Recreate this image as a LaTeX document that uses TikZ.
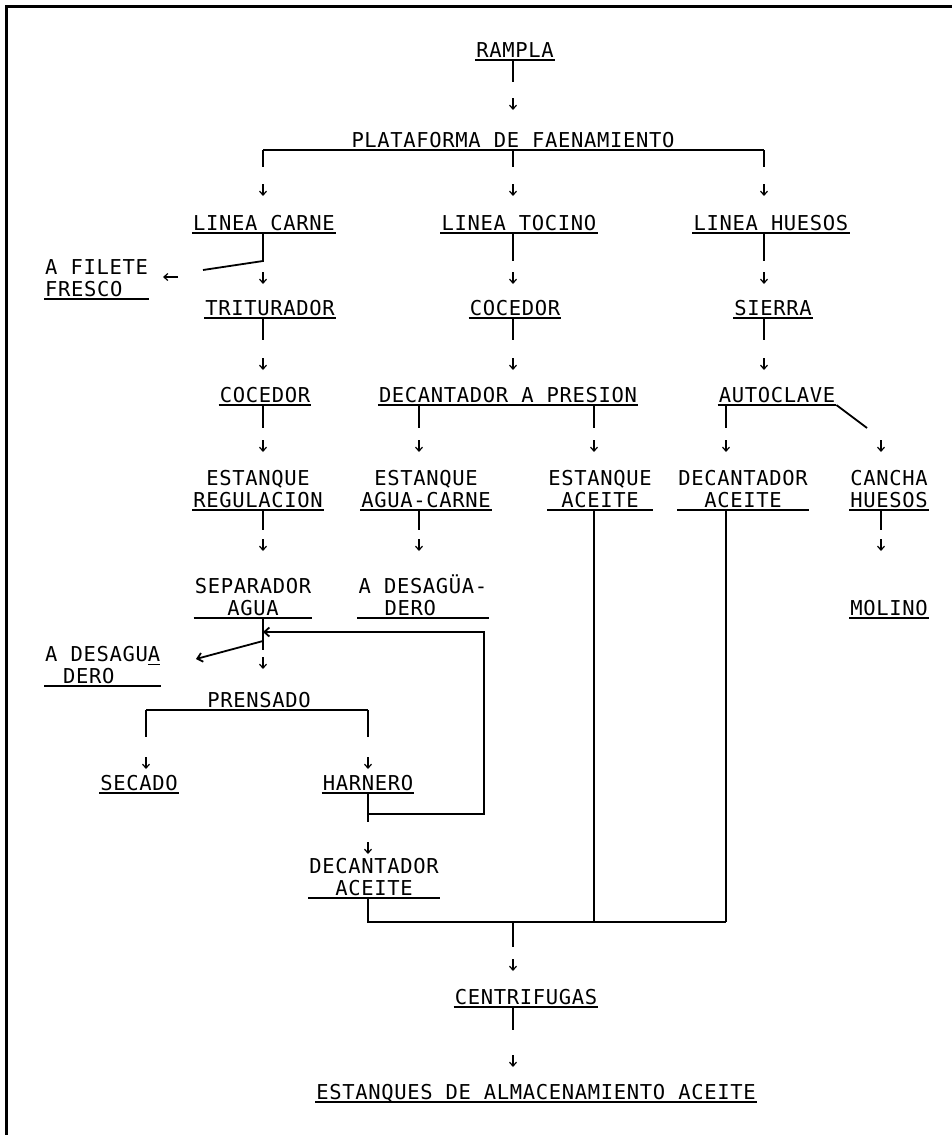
\documentclass[tikz,border=0pt]{standalone}
\usepackage{fontspec}
\newfontfamily\tw{DejaVu Sans Mono}[LetterSpace=3.2]
\usetikzlibrary{arrows.meta,calc}
\tikzset{
  lbl/.style={font=\tw\fontsize{20.5}{22}\selectfont, inner xsep=1pt, inner ysep=2pt, text depth=0pt, anchor=south, align=center},
  uline/.style={line width=1.8pt},
  ul/.style={append after command={(\tikzlastnode.south west) edge[uline] (\tikzlastnode.south east)}},
  conn/.style={line width=1.8pt},
  arr/.style={line width=1.2pt, -{Straight Barb[length=4pt,width=7pt]}},
  bigarr/.style={line width=1.8pt, -{Straight Barb[length=5pt,width=9pt]}},
}
\newcommand\dnarrow[2]{\draw[arr] ($(#1)+(0,#2-6)$) -- ($(#1)+(0,#2+6)$);}
\newcommand\ulchar[1]{\makebox[0pt][l]{\rule[-3.5pt]{12pt}{1.5pt}}#1}
\begin{document}
\begin{tikzpicture}[x=1pt,y=-1pt]
\useasboundingbox (0,0) rectangle (952,1135);
\draw[line width=3pt] (6,1135) -- (6,6) -- (952,6);
% columns
\coordinate (xA) at (263,0);
\coordinate (xB) at (513,0);
\coordinate (xC) at (764,0);
\coordinate (xD) at (419,0);
\coordinate (xE) at (594,0);
\coordinate (xF) at (726,0);
\coordinate (xG) at (881,0);
\coordinate (xH) at (146,0);
\coordinate (xI) at (368,0);
\coordinate (xJ) at (484,0);
\coordinate (coll) at (0,922);
\coordinate (fil) at (203,270);
\coordinate (fila) at (178,277);
\coordinate (filb) at (163,277);
\coordinate (adiag) at (867,428);
\coordinate (d1tip) at (196,659);
% nodes
\node[lbl,ul] (rampla) at (515,60) {RAMPLA};
\node[lbl] (plat) at (513,150) {PLATAFORMA DE FAENAMIENTO};
\node[lbl,ul] (lcar) at (264,233) {LINEA CARNE};
\node[lbl,ul] (ltoc) at (519,233) {LINEA TOCINO};
\node[lbl,ul] (lhue) at (771,233) {LINEA HUESOS};
\node[lbl,ul,anchor=south west,align=left] (filete) at (44,299) {A FILETE\\FRESCO};
\node[lbl,ul] (trit) at (270,318) {TRITURADOR};
\node[lbl,ul] (coc2) at (515,318) {COCEDOR};
\node[lbl,ul] (sierra) at (773,318) {SIERRA};
\node[lbl,ul] (coc1) at (265,405) {COCEDOR};
\node[lbl,ul] (decp) at (508,405) {DECANTADOR A PRESION};
\node[lbl,ul] (auto) at (777,405) {AUTOCLAVE};
\node[lbl,ul] (estreg) at (258,510) {ESTANQUE\\REGULACION};
\node[lbl,ul] (estagua) at (426,510) {ESTANQUE\\AGUA-CARNE};
\node[lbl,ul] (estace) at (600,510) {ESTANQUE\\ACEITE};
\node[lbl,ul] (decace1) at (743,510) {DECANTADOR\\ACEITE};
\node[lbl,ul] (cancha) at (889,510) {CANCHA\\HUESOS};
\node[lbl,ul] (sep) at (253,618) {SEPARADOR\\AGUA};
\node[lbl,ul,align=left] (desag2) at (423,618) {A DESAGÜA-\\\hspace*{26pt}DERO};
\node[lbl,ul] (molino) at (889,618) {MOLINO};
\node[lbl,ul,anchor=south west,align=left] (desag1) at (44,686) {A DESAGU\ulchar{A}\\\hspace*{18pt}DERO};
\node[lbl] (prens) at (259,710) {PRENSADO};
\node[lbl,ul] (secado) at (139,793) {SECADO};
\node[lbl,ul] (harn) at (368,793) {HARNERO};
\node[lbl,ul] (decace2) at (374,898) {DECANTADOR\\ACEITE};
\node[lbl,ul] (centr) at (526,1007) {CENTRIFUGAS};
\node[lbl,ul] (estalm) at (536,1102) {ESTANQUES DE ALMACENAMIENTO ACEITE};
% rampla -> plataforma
\draw[conn] (rampla.south -| xB) -- ++(0,22);
\dnarrow{xB}{104}
% plataforma bracket
\draw[conn] (plat.south -| xA) -- (plat.south -| xC);
\foreach \c in {xA,xB,xC} {\draw[conn] (plat.south -| \c) -- ++(0,17);}
\foreach \c in {xA,xB,xC} {\dnarrow{\c}{190}}
% lineas
\draw[conn] (lcar.south -| xA) -- ++(0,28) -- (fil);
\draw[arr] (fila) -- (filb);
\draw[conn] (ltoc.south -| xB) -- ++(0,28);
\draw[conn] (lhue.south -| xC) -- ++(0,28);
\foreach \c in {xA,xB,xC} {\dnarrow{\c}{278}}
% triturador / cocedor / sierra
\draw[conn] (trit.south -| xA) -- ++(0,22);
\draw[conn] (coc2.south -| xB) -- ++(0,22);
\draw[conn] (sierra.south -| xC) -- ++(0,22);
\foreach \c in {xA,xB,xC} {\dnarrow{\c}{364}}
% cocedor / decantador a presion / autoclave
\draw[conn] (coc1.south -| xA) -- ++(0,23);
\draw[conn] (decp.south -| xD) -- ++(0,23);
\draw[conn] (decp.south -| xE) -- ++(0,23);
\draw[conn] (auto.south -| xF) -- ++(0,23);
\draw[conn] (auto.south east) -- (adiag);
\foreach \c in {xA,xD,xE,xF,xG} {\dnarrow{\c}{446}}
% estanques row
\draw[conn] (estreg.south -| xA) -- ++(0,20);
\draw[conn] (estagua.south -| xD) -- ++(0,20);
\draw[conn] (cancha.south -| xG) -- ++(0,20);
\foreach \c in {xA,xD,xG} {\dnarrow{\c}{545}}
\draw[conn] (estace.south -| xE) -- (xE |- coll);
\draw[conn] (decace1.south -| xF) -- (xF |- coll);
% separador agua
\draw[conn] (sep.south -| xA) -- ++(0,32);
\draw[bigarr] ($(sep.south -| xA)+(0,23)$) -- (d1tip);
\dnarrow{xA}{663}
% prensado
\draw[conn] (prens.south -| xH) -- (prens.south -| xI);
\draw[conn] (prens.south -| xH) -- ++(0,27);
\draw[conn] (prens.south -| xI) -- ++(0,27);
\foreach \c in {xH,xI} {\dnarrow{\c}{763}}
% harnero and return line
\draw[conn] (harn.south -| xI) -- ++(0,29);
\draw[bigarr] ($(harn.south -| xI)+(0,21)$) -| ($(sep.south -| xJ)+(0,14)$) -- ($(sep.south -| xA)+(0,14)$);
\dnarrow{xI}{848}
% collector
\draw[conn] (decace2.south -| xI) -- (xI |- coll) -- (xF |- coll);
\draw[conn] (xB |- coll) -- ++(0,25);
\dnarrow{xB}{965}
\draw[conn] (centr.south -| xB) -- ++(0,23);
\dnarrow{xB}{1061}
\end{tikzpicture}
\end{document}
